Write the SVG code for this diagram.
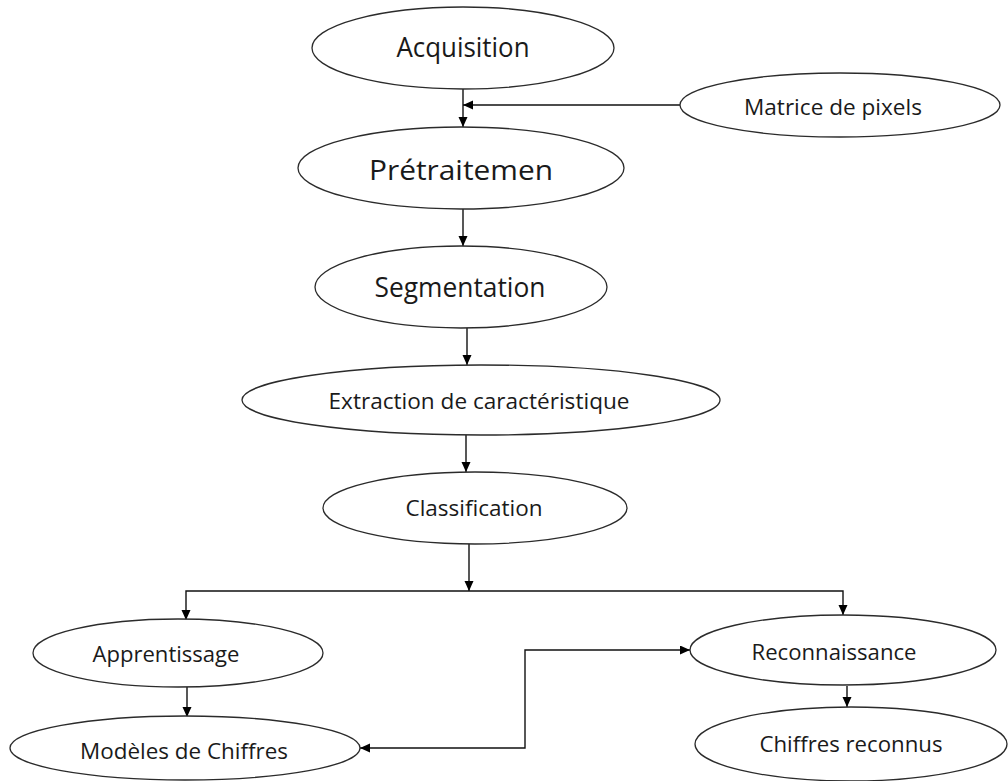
<svg xmlns="http://www.w3.org/2000/svg" width="1008" height="781" viewBox="0 0 1008 781">
<style>
.n ellipse{fill:#fff;stroke:#2b2b2b;stroke-width:1.3}
.n text{font-family:"Open Sans","Liberation Sans",sans-serif;fill:#1a1a1a;text-anchor:middle}
.c path{fill:none;stroke:#111;stroke-width:1.4}
</style>
<defs>
<marker id="ah" markerUnits="userSpaceOnUse" markerWidth="11" markerHeight="10" refX="10" refY="4.5" orient="auto-start-reverse" viewBox="0 0 11 10">
<path d="M0,0 L10,4.5 L0,9 z" fill="#000"/>
</marker>
</defs>
<rect width="1008" height="781" fill="#fff"/>
<g class="c" id="connectors">
<path d="M463,89 V127" marker-end="url(#ah)"/>
<path d="M680,105 H463" marker-end="url(#ah)"/>
<path d="M463,208 V246" marker-end="url(#ah)"/>
<path d="M467,328 V365" marker-end="url(#ah)"/>
<path d="M466,435 V472" marker-end="url(#ah)"/>
<path d="M469,543 V591" marker-end="url(#ah)"/>
<path d="M469,591 H186 V620" marker-end="url(#ah)"/>
<path d="M469,591 H843 V615" marker-end="url(#ah)"/>
<path d="M187,687 V717" marker-end="url(#ah)"/>
<path d="M847,686 V707" marker-end="url(#ah)"/>
<path d="M360,748 H525 V650 H690" marker-start="url(#ah)" marker-end="url(#ah)"/>
</g>
<g class="n" id="acquisition"><ellipse cx="463" cy="48" rx="151" ry="41"/><text x="463" y="57" font-size="27" textLength="133" lengthAdjust="spacingAndGlyphs">Acquisition</text></g>
<g class="n" id="matrice"><ellipse cx="840" cy="105" rx="160" ry="32"/><text x="833" y="115" font-size="21" textLength="178" lengthAdjust="spacingAndGlyphs">Matrice de pixels</text></g>
<g class="n" id="pretraitement"><ellipse cx="461" cy="168" rx="163" ry="41"/><text x="461" y="180" font-size="28" textLength="184" lengthAdjust="spacingAndGlyphs">Prétraitemen</text></g>
<g class="n" id="segmentation"><ellipse cx="461" cy="287" rx="146" ry="41"/><text x="460" y="297" font-size="27" textLength="171" lengthAdjust="spacingAndGlyphs">Segmentation</text></g>
<g class="n" id="extraction"><ellipse cx="481" cy="400" rx="239" ry="35"/><text x="479" y="409" font-size="21" textLength="301" lengthAdjust="spacingAndGlyphs">Extraction de caractéristique</text></g>
<g class="n" id="classification"><ellipse cx="475" cy="508" rx="152" ry="36"/><text x="474" y="516" font-size="21" textLength="137" lengthAdjust="spacingAndGlyphs">Classification</text></g>
<g class="n" id="apprentissage"><ellipse cx="178" cy="653" rx="145" ry="34"/><text x="166" y="662" font-size="21" textLength="147" lengthAdjust="spacingAndGlyphs">Apprentissage</text></g>
<g class="n" id="modeles"><ellipse cx="185" cy="748" rx="175" ry="32"/><text x="184" y="759" font-size="21" textLength="208" lengthAdjust="spacingAndGlyphs">Modèles de Chiffres</text></g>
<g class="n" id="reconnaissance"><ellipse cx="843" cy="650" rx="153" ry="35"/><text x="834" y="660" font-size="21" textLength="165" lengthAdjust="spacingAndGlyphs">Reconnaissance</text></g>
<g class="n" id="chiffres"><ellipse cx="851" cy="744" rx="156" ry="37"/><text x="851" y="752" font-size="21" textLength="183" lengthAdjust="spacingAndGlyphs">Chiffres reconnus</text></g>
</svg>
